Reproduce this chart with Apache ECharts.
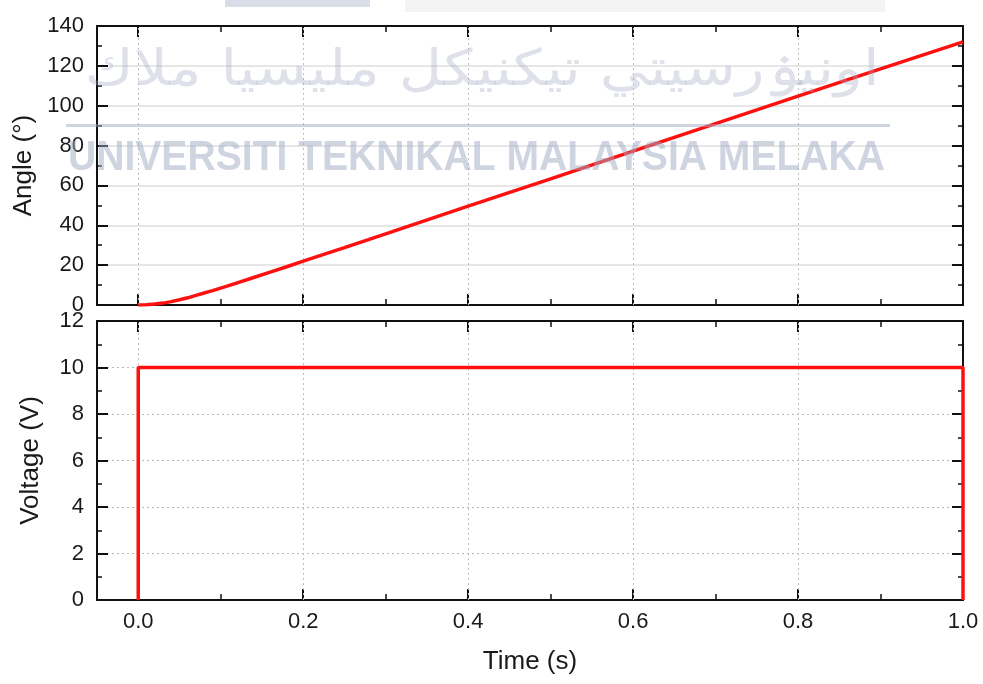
<!DOCTYPE html>
<html>
<head>
<meta charset="utf-8">
<script src="https://cdn.jsdelivr.net/npm/echarts@6/dist/echarts.min.js"></script>
<style>
  html, body { margin: 0; padding: 0; background: #fff; }
  #chart { width: 983px; height: 684px; }
</style>
</head>
<body>
<div id="chart"></div>
<script>
// Motor step response: shaft angle and applied voltage over time
const timeS    = [0, 0.01, 0.02, 0.03, 0.04, 0.05, 0.06, 0.07, 0.08, 0.09, 0.1, 0.12, 0.14, 0.16, 0.18, 0.2, 0.25, 0.3, 0.4, 0.5, 0.6, 0.7, 0.8, 0.9, 1.0];
const angleDeg = [0, 0.1, 0.45, 0.95, 1.7, 2.6, 3.6, 4.8, 6.0, 7.2, 8.5, 11.1, 13.8, 16.5, 19.2, 22.0, 28.8, 35.7, 49.6, 63.3, 77.2, 91.0, 104.8, 118.5, 132.0];

const voltTime = [0, 0, 1.0, 1.0];
const voltVal  = [0, 10, 10, 0];

const xMajorTicks = [0, 0.2, 0.4, 0.6, 0.8, 1.0];
const xMinorTicks = [0.1, 0.3, 0.5, 0.7, 0.9];
const xGridLines  = [0, 0.2, 0.4, 0.6, 0.8];

const FONT = 'Liberation Sans, Arial, sans-serif';
const RED = '#ff1010';

const chart = echarts.init(document.getElementById('chart'), null, { renderer: 'canvas' });

function xAxisDef(gridIndex, position, values, len, opts) {
  return Object.assign({
    type: 'value', gridIndex, position,
    min: -0.05, max: 1.0,
    axisLine: { show: false, onZero: false, lineStyle: { color: '#111', width: 2 } },
    axisTick: { show: true, inside: true, length: len, customValues: values,
                lineStyle: { color: '#111', width: len > 8 ? 2 : 1.5 } },
    axisLabel: { show: false },
    splitLine: { show: false }
  }, opts || {});
}

function yAxisDef(gridIndex, position, max, interval, opts) {
  return Object.assign({
    type: 'value', gridIndex, position,
    min: 0, max, interval,
    axisLine: { show: true, onZero: false, lineStyle: { color: '#111', width: 2 } },
    axisTick: { show: true, inside: true, length: 11, lineStyle: { color: '#111', width: 2 } },
    minorTick: { show: true, splitNumber: 2, length: 5, lineStyle: { color: '#111', width: 1.5 } },
    axisLabel: { show: false },
    splitLine: { show: false }
  }, opts || {});
}

const tickLabel = { show: true, fontFamily: FONT, fontSize: 22, color: '#1a1a1a' };
const nameStyle = { fontFamily: FONT, fontSize: 26, color: '#1a1a1a' };

const xAxes = [];
[0, 1].forEach(g => {
  const bottomMajor = xAxisDef(g, 'bottom', xMajorTicks, 11);
  bottomMajor.axisLine.show = true;
  if (g === 1) {
    bottomMajor.axisLabel = Object.assign({}, tickLabel, {
      margin: 11, customValues: xMajorTicks,
      formatter: v => v.toFixed(1)
    });
    bottomMajor.name = 'Time (s)';
    bottomMajor.nameLocation = 'middle';
    bottomMajor.nameGap = 49;
    bottomMajor.nameTextStyle = nameStyle;
  }
  xAxes.push(bottomMajor);
  xAxes.push(xAxisDef(g, 'bottom', xMinorTicks, 6));
  const topMajor = xAxisDef(g, 'top', xMajorTicks, 11);
  topMajor.axisLine.show = true;
  xAxes.push(topMajor);
  xAxes.push(xAxisDef(g, 'top', xMinorTicks, 6));
});

const yAxes = [
  yAxisDef(0, 'left', 140, 20, {
    axisLabel: Object.assign({}, tickLabel, { margin: 13 }),
    splitLine: { show: true, lineStyle: { color: '#dedede', width: 1.5 } },
    name: 'Angle (°)', nameLocation: 'middle', nameGap: 53, nameTextStyle: nameStyle
  }),
  yAxisDef(0, 'right', 140, 20),
  yAxisDef(1, 'left', 12, 2, {
    axisLabel: Object.assign({}, tickLabel, { margin: 13 }),
    splitLine: { show: true, lineStyle: { color: '#b8b8b8', width: 1, type: [2, 3] } },
    name: 'Voltage (V)', nameLocation: 'middle', nameGap: 53, nameTextStyle: nameStyle
  }),
  yAxisDef(1, 'right', 12, 2)
];

// Vertical dotted grid lines, drawn by empty helper series beneath the curves
function gridSeries(xIdx, yIdx) {
  return {
    type: 'line', xAxisIndex: xIdx, yAxisIndex: yIdx, data: [], z: 1, silent: true,
    markLine: {
      silent: true, symbol: 'none', animation: false, z: 1,
      label: { show: false },
      lineStyle: { color: '#bdbdbd', width: 1, type: [2, 3] },
      data: xGridLines.map(v => ({ xAxis: v }))
    }
  };
}

// Faded institutional watermark laid over the upper panel
function measure(text, font) {
  const c = document.createElement('canvas').getContext('2d');
  c.font = font;
  return c.measureText(text).width;
}
const wmLatin = 'UNIVERSITI TEKNIKAL MALAYSIA MELAKA';
const wmLatinFont = 'bold 42px "Liberation Sans Narrow", "Liberation Sans", Arial, sans-serif';
const wmLatinScale = 817 / measure(wmLatin, wmLatinFont);
const wmJawi = 'اونيۏرسيتي تيكنيكل مليسيا ملاك';
const wmJawiFont = '50px "DejaVu Sans", sans-serif';
const wmJawiScale = 795 / measure(wmJawi, wmJawiFont);

chart.setOption({
  animation: false,
  backgroundColor: '#fff',
  grid: [
    { left: 97, right: 20, top: 26, height: 279 },
    { left: 97, right: 20, top: 321, height: 279 }
  ],
  xAxis: xAxes,
  yAxis: yAxes,
  series: [
    gridSeries(0, 0),
    gridSeries(4, 2),
    {
      type: 'line', xAxisIndex: 0, yAxisIndex: 0,
      data: timeS.map((t, i) => [t, angleDeg[i]]),
      showSymbol: false,
      lineStyle: { color: RED, width: 3.5 },
      z: 10
    },
    {
      type: 'line', xAxisIndex: 4, yAxisIndex: 2,
      data: voltTime.map((t, i) => [t, voltVal[i]]),
      showSymbol: false,
      lineStyle: { color: RED, width: 3.5 },
      z: 10
    }
  ],
  graphic: [
    { type: 'rect', shape: { x: 405, y: 0, width: 480, height: 12 }, style: { fill: '#f3f3f3' }, z: 100, silent: true },
    { type: 'rect', shape: { x: 225, y: 0, width: 145, height: 7 }, style: { fill: 'rgba(180,188,208,0.5)' }, z: 100, silent: true },
    { type: 'text', x: 482, y: 72, scaleX: wmJawiScale, z: 100, silent: true,
      style: { text: wmJawi, font: wmJawiFont, fill: 'rgba(160,170,196,0.35)', align: 'center', verticalAlign: 'middle' } },
    { type: 'rect', shape: { x: 66, y: 124, width: 824, height: 3 }, style: { fill: 'rgba(160,170,196,0.5)' }, z: 100, silent: true },
    { type: 'text', x: 68, y: 158, scaleX: wmLatinScale, z: 100, silent: true,
      style: { text: wmLatin, font: wmLatinFont, fill: 'rgba(160,170,196,0.5)', align: 'left', verticalAlign: 'middle' } }
  ]
});
</script>
</body>
</html>
